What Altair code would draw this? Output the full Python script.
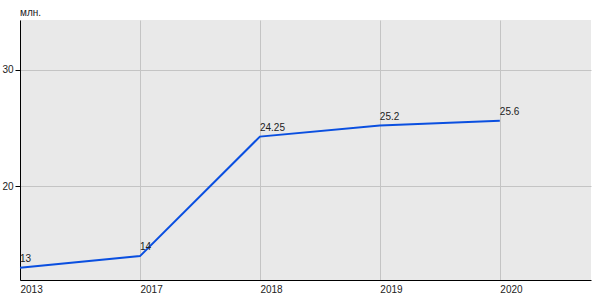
import altair as alt
import pandas as pd

years = ["2013", "2017", "2018", "2019", "2020"]
values = [13, 14, 24.25, 25.2, 25.6]
labels = ["13", "14", "24.25", "25.2", "25.6"]

df = pd.DataFrame({"idx": list(range(len(years))), "year": years, "value": values, "label": labels})

label_expr = "[" + ",".join(f"'{y}'" for y in years) + "][datum.value]"
FONT = "Liberation Sans"
FS = 10

x = alt.X("idx:Q", scale=alt.Scale(domain=[0, 4.76], nice=False, zero=False),
          axis=alt.Axis(values=list(range(len(years))), labelExpr=label_expr, title=None,
                        labelAlign="left", ticks=False, grid=True, gridColor="#c4c4c4",
                        domainColor="#000000", labelPadding=4, labelFontSize=FS,
                        labelColor="#222222", labelFont=FONT))
y = alt.Y("value:Q", scale=alt.Scale(domain=[11.95, 34.25], nice=False, zero=False),
          axis=alt.Axis(values=[20, 30], title=None, grid=True, gridColor="#c4c4c4",
                        tickSize=5, tickColor="#000000", domainColor="#000000",
                        labelPadding=2, labelFontSize=FS, labelColor="#222222",
                        labelFont=FONT))

line = alt.Chart(df).mark_line(color="#0a4fe0", strokeWidth=2).encode(x=x, y=y)
text = alt.Chart(df).mark_text(align="left", baseline="alphabetic", dy=-6, fontSize=FS,
                               color="#222222", font=FONT).encode(
    x="idx:Q", y="value:Q", text="label:N")
unit = alt.Chart(pd.DataFrame({"t": ["млн."]})).mark_text(
    align="left", baseline="middle", fontSize=FS, color="#222222", font=FONT
).encode(x=alt.value(0), y=alt.value(-7), text="t:N")

chart = alt.layer(line, text, unit).properties(
    width=571, height=260,
    autosize=alt.AutoSizeParams(type="none"),
    padding={"left": 20, "top": 20, "right": 9, "bottom": 20},
).configure_view(fill="#e9e9e9", stroke=None)

chart.save("out.html", embed_options={"renderer": "svg", "actions": False})
